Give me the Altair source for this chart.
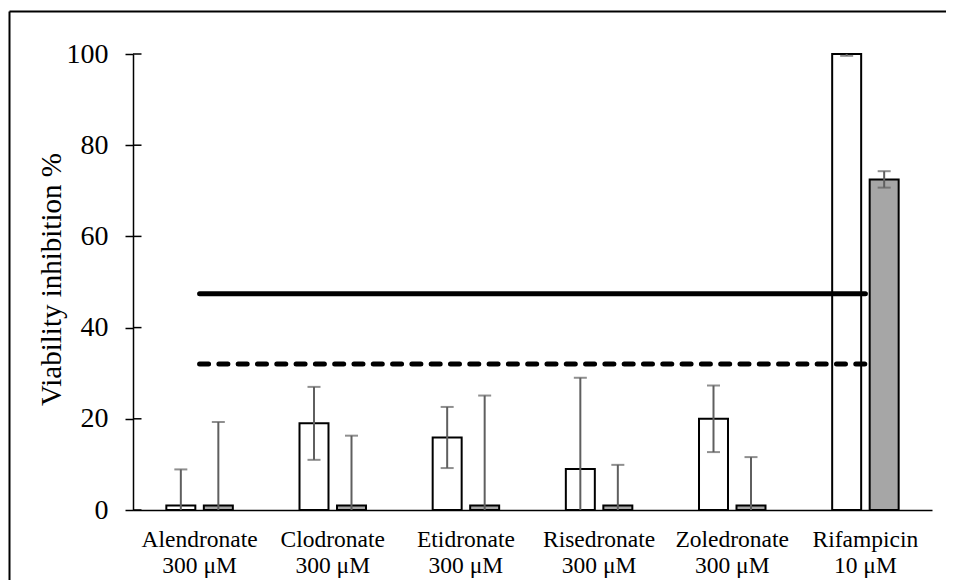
import altair as alt
import pandas as pd

drugs = ["Alendronate", "Clodronate", "Etidronate", "Risedronate", "Zoledronate", "Rifampicin"]
doses = ["300 μM", "300 μM", "300 μM", "300 μM", "300 μM", "10 μM"]
series = ["Condition A", "Condition B"]

a_values = [1.0, 19.0, 15.9, 9.0, 20.0, 100.0]
a_errors = [7.9, 8.0, 6.7, 20.0, 7.3, 0.4]
b_values = [1.0, 1.0, 1.0, 1.0, 1.0, 72.5]
b_errors = [18.3, 15.3, 24.1, 8.9, 10.6, 1.8]

solid_level = 47.4
dashed_level = 32.0
y_ticks = [0, 20, 40, 60, 80, 100]

cats = [f"{d}|{s}" for d, s in zip(drugs, doses)]

rows = []
for c, v, e in zip(cats, a_values, a_errors):
    rows.append({"cat": c, "series": series[0], "value": v, "lo": v - e, "hi": v + e})
for c, v, e in zip(cats, b_values, b_errors):
    rows.append({"cat": c, "series": series[1], "value": v, "lo": v - e, "hi": v + e})
df = pd.DataFrame(rows)

lines_df = pd.DataFrame({"cat": cats, "solid": [solid_level] * len(cats), "dashed": [dashed_level] * len(cats)})
ticks_df = pd.DataFrame({"t": y_ticks})

FONT = "Liberation Serif"

x_enc = alt.X(
    "cat:N",
    sort=cats,
    scale=alt.Scale(paddingInner=0, paddingOuter=0),
    axis=alt.Axis(
        title=None,
        ticks=False,
        tickSize=0,
        domainColor="black",
        domainWidth=1.5,
        labelExpr="split(datum.label, '|')",
        labelFont=FONT,
        labelFontSize=23.5,
        labelColor="black",
        labelLineHeight=26,
        labelBaseline="alphabetic",
        labelPadding=36.5,
        labelAngle=0,
        labelLimit=300,
    ),
)
x_plain = alt.X("cat:N", sort=cats, scale=alt.Scale(paddingInner=0, paddingOuter=0))
xoff = alt.XOffset(
    "series:N", sort=series, scale=alt.Scale(paddingInner=0.227, paddingOuter=0.889)
)
y_scale = alt.Scale(domain=[0, 100], nice=False, zero=True)

bars = alt.Chart(df).mark_bar(stroke="black", strokeWidth=2).encode(
    x=x_enc,
    xOffset=xoff,
    y=alt.Y(
        "value:Q",
        scale=y_scale,
        axis=alt.Axis(
            values=y_ticks,
            grid=False,
            tickSize=8,
            tickColor="black",
            tickWidth=1.5,
            domainColor="black",
            domainWidth=1.5,
            labelFont=FONT,
            labelFontSize=28,
            labelColor="black",
            labelPadding=17,
            title="Viability inhibition %",
            titleFont=FONT,
            titleFontSize=29,
            titleFontWeight="normal",
            titleColor="black",
            titleX=-73,
            titleY=225,
            titleAngle=-90,
            titleAlign="center",
            titleBaseline="alphabetic",
        ),
    ),
    fill=alt.Fill("series:N", scale=alt.Scale(domain=series, range=["white", "#a6a6a6"]), legend=None),
)

err = alt.Chart(df).mark_rule(color="#5f5f5f", strokeWidth=2, clip=True).encode(
    x=x_plain, xOffset=xoff, y=alt.Y("lo:Q", scale=y_scale), y2="hi:Q"
)
cap_hi = alt.Chart(df).mark_tick(color="#5f5f5f", thickness=2, size=13, clip=True).encode(
    x=x_plain, xOffset=xoff, y=alt.Y("hi:Q", scale=y_scale)
)
cap_lo = alt.Chart(df).mark_tick(color="#5f5f5f", thickness=2, size=13, clip=True).encode(
    x=x_plain, xOffset=xoff, y=alt.Y("lo:Q", scale=y_scale)
)

solid = alt.Chart(lines_df).mark_line(color="black", strokeWidth=5, strokeCap="round").encode(
    x=x_plain, y=alt.Y("solid:Q", scale=y_scale)
)
dashed = alt.Chart(lines_df).mark_line(
    color="black", strokeWidth=5, strokeCap="round", strokeDash=[9, 10.3]
).encode(x=x_plain, y=alt.Y("dashed:Q", scale=y_scale))

inner_ticks = alt.Chart(ticks_df).mark_rule(color="black", strokeWidth=1.5).encode(
    y=alt.Y("t:Q", scale=y_scale), x=alt.value(0), x2=alt.value(8.5)
)

frame_data = alt.Data(values=[{}])
frame_left = alt.Chart(frame_data).mark_rule(color="black", strokeWidth=2).encode(
    x=alt.value(-123.5), y=alt.value(-42.5), y2=alt.value(540)
)
frame_top = alt.Chart(frame_data).mark_rule(color="black", strokeWidth=2).encode(
    x=alt.value(-123.5), x2=alt.value(830), y=alt.value(-42.5)
)

chart = (
    alt.layer(bars, solid, dashed, err, cap_hi, cap_lo, inner_ticks, frame_left, frame_top)
    .properties(
        width=799,
        height=456,
        autosize=alt.AutoSizeParams(type="none"),
        padding={"left": 125, "top": 46, "right": 14, "bottom": 72},
        background="white",
    )
    .configure_view(stroke=None)
)

chart.save("out.html", embed_options={"renderer": "svg", "actions": False})
